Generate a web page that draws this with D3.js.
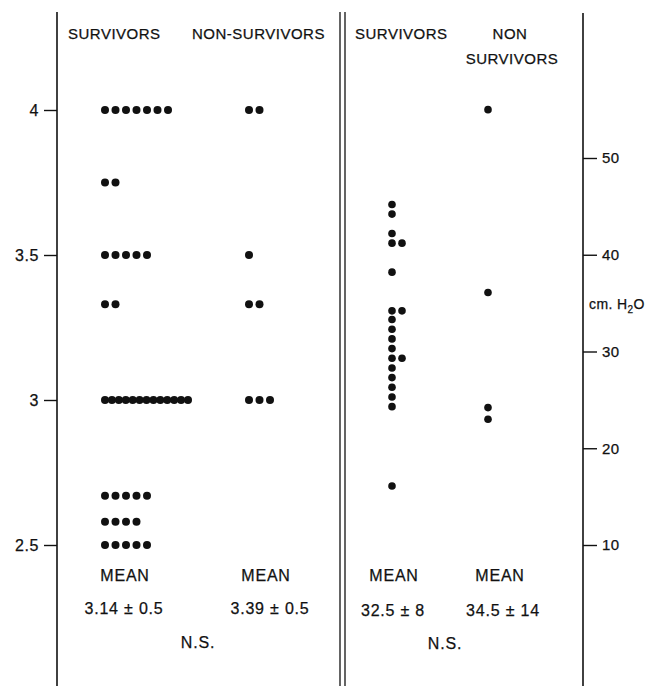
<!DOCTYPE html>
<html>
<head>
<meta charset="utf-8">
<script src="https://cdn.jsdelivr.net/npm/d3@7"></script>
<style>
	body { margin: 0; background: #fff; }
	svg { display: block; }
	text { font-family: "Liberation Sans", Arial, Helvetica, sans-serif; fill: #111; stroke: #111; stroke-width: 0.25px; }
	.axis .tick line { stroke: #111; stroke-width: 1.4; }
	.axis .tick text { font-size: 16px; letter-spacing: 0.6px; }
	.axis.right .tick text { font-size: 15px; letter-spacing: 0.3px; }
	.head { font-size: 15px; letter-spacing: 0.5px; }
	.foot { font-size: 16px; letter-spacing: 0.8px; white-space: pre; }
</style>
</head>
<body>
<div id="chart"></div>
<script>

// left panel: values on the left axis, dot counts per level
const leftLevels = [4, 3.75, 3.5, 3.33, 3, 2.67, 2.58, 2.5];
const leftSurvivorCounts = [7, 2, 5, 2, 13, 5, 4, 5];
const leftNonSurvivorCounts = [2, 0, 1, 2, 3, 0, 0, 0];

// right panel: cm. H2O
const rightSurvivors = [45.2, 44.2, 42.2, 41.2, 41.2, 38.2, 34.2, 34.2, 33.3, 32.3,
	31.3, 30.3, 29.3, 29.3, 28.3, 27.3, 26.3, 25.3, 24.3, 16.1];
const rightNonSurvivors = [55, 36.1, 24.2, 23];

const leftTicks = [4, 3.5, 3, 2.5];
const leftTickLabels = ["4", "3.5", "3", "2.5"];
const rightTicks = [50, 40, 30, 20, 10];
const rightTickLabels = ["50", "40", "30", "20", "10"];

const groups = ["leftSurv", "leftNon", "rightSurv", "rightNon"];

const width = 658, height = 686;

let svg = d3.select("#chart").append("svg")
	.attr("width", width)
	.attr("height", height);

let yLeft = d3.scaleLinear()
	.domain([2.5, 4])
	.range([545, 110]);

let yRight = d3.scaleLinear()
	.domain([10, 50])
	.range([545, 158]);

let groupX = d3.scaleOrdinal()
	.domain(groups)
	.range([105, 249, 392, 488]);

// panel frame lines
let frame = [
	{x: 57, top: 12},
	{x: 340, top: 12},
	{x: 345, top: 12},
	{x: 583, top: 13}
];
svg.selectAll(".frame")
	.data(frame)
	.enter()
	.append("line")
	.attr("class", "frame")
	.attr("x1", d => d.x)
	.attr("x2", d => d.x)
	.attr("y1", d => d.top)
	.attr("y2", height)
	.attr("stroke", "#111")
	.attr("stroke-width", (d, i) => (i === 1 || i === 2) ? 1.3 : 1.6);

// axes
let leftAxis = d3.axisLeft(yLeft)
	.tickValues(leftTicks)
	.tickFormat((d, i) => leftTickLabels[i])
	.tickSize(13)
	.tickPadding(5);

svg.append("g")
	.attr("class", "axis left")
	.attr("transform", "translate(57,0)")
	.call(leftAxis)
	.call(g => g.select(".domain").remove())
	.call(g => g.selectAll(".tick text").attr("fill", "#111"));

let rightAxis = d3.axisRight(yRight)
	.tickValues(rightTicks)
	.tickFormat((d, i) => rightTickLabels[i])
	.tickSize(14)
	.tickPadding(5);

svg.append("g")
	.attr("class", "axis right")
	.attr("transform", "translate(583,0)")
	.call(rightAxis)
	.call(g => g.select(".domain").remove())
	.call(g => g.selectAll(".tick text").attr("fill", "#111"));

// dots, left panel: a row of dots per level, squeezed when the row is long
const step = 10.5, maxRow = 83;

function rowDots(counts, group) {
	let out = [];
	counts.forEach((n, i) => {
		let s = n > 1 ? Math.min(step, maxRow / (n - 1)) : 0;
		for (let k = 0; k < n; k++) {
			out.push({group: group, value: leftLevels[i], offset: k * s});
		}
	});
	return out;
}

// dots, right panel: equal values are placed side by side
function sideDots(values, group) {
	let seen = {};
	return values.map(v => {
		seen[v] = (seen[v] || 0) + 1;
		return {group: group, value: v, offset: (seen[v] - 1) * 10};
	});
}

let leftDots = rowDots(leftSurvivorCounts, "leftSurv")
	.concat(rowDots(leftNonSurvivorCounts, "leftNon"));
let rightDots = sideDots(rightSurvivors, "rightSurv")
	.concat(sideDots(rightNonSurvivors, "rightNon"));

svg.selectAll(".dotL")
	.data(leftDots)
	.enter()
	.append("circle")
	.attr("class", "dotL")
	.attr("cx", d => groupX(d.group) + d.offset)
	.attr("cy", d => yLeft(d.value))
	.attr("r", 4)
	.attr("fill", "#111");

svg.selectAll(".dotR")
	.data(rightDots)
	.enter()
	.append("circle")
	.attr("class", "dotR")
	.attr("cx", d => groupX(d.group) + d.offset)
	.attr("cy", d => yRight(d.value))
	.attr("r", 3.8)
	.attr("fill", "#111");

// headings
let heads = [
	{t: "SURVIVORS", x: 68, y: 39, a: "start"},
	{t: "NON-SURVIVORS", x: 192, y: 39, a: "start"},
	{t: "SURVIVORS", x: 355, y: 39, a: "start"},
	{t: "NON", x: 510, y: 39, a: "middle"},
	{t: "SURVIVORS", x: 512, y: 64, a: "middle"}
];
svg.selectAll(".head")
	.data(heads)
	.enter()
	.append("text")
	.attr("class", "head")
	.attr("x", d => d.x)
	.attr("y", d => d.y)
	.attr("text-anchor", d => d.a)
	.text(d => d.t);

// means and significance
let foots = [
	{t: "MEAN", x: 125, y: 581},
	{t: "MEAN", x: 266, y: 581},
	{t: "3.14 \u00b1 0.5", x: 124, y: 614},
	{t: "3.39 \u00b1 0.5", x: 270, y: 614},
	{t: "N.S.", x: 198, y: 648},
	{t: "MEAN", x: 394, y: 581},
	{t: "MEAN", x: 500, y: 581},
	{t: "32.5 \u00b1 8", x: 393, y: 616},
	{t: "34.5 \u00b1 14", x: 503, y: 616},
	{t: "N.S.", x: 445, y: 649}
];
svg.selectAll(".foot")
	.data(foots)
	.enter()
	.append("text")
	.attr("class", "foot")
	.attr("x", d => d.x)
	.attr("y", d => d.y)
	.attr("text-anchor", "middle")
	.text(d => d.t);

// unit label on the right axis
let unit = svg.append("text")
	.attr("x", 589)
	.attr("y", 309)
	.style("font-size", "14px")
	.style("letter-spacing", "0.4px");
unit.append("tspan").text("cm.  H");
unit.append("tspan").attr("dy", 4).style("font-size", "10px").text("2");
unit.append("tspan").attr("dy", -4).text("O");

</script>
</body>
</html>
